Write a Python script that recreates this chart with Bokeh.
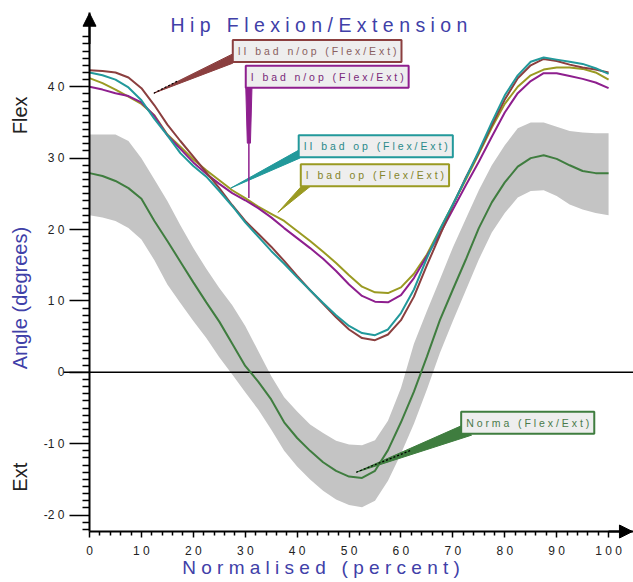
from bokeh.plotting import figure
from bokeh.models import Range1d, FixedTicker, Label, Arrow, NormalHead, ColumnDataSource
from bokeh.embed import file_html
from bokeh.resources import INLINE

# ---------------- data ----------------
pct = [0, 2.5, 5, 7.5, 10, 12.5, 15, 17.5, 20, 22.5, 25, 27.5, 30, 32.5, 35, 37.5, 40,
       42.5, 45, 47.5, 50, 52.5, 55, 57.5, 60, 62.5, 65, 67.5, 70, 72.5, 75, 77.5, 80,
       82.5, 85, 87.5, 90, 92.5, 95, 97.5, 100]

normal_mean = [27.9, 27.5, 26.8, 25.8, 24.3, 21.2, 18.4, 15.5, 12.6, 9.8, 7.1, 4.0, 0.9, -1.3,
               -3.8, -7.0, -9.2, -11.0, -12.6, -13.8, -14.6, -14.8, -13.8, -10.9, -7.0, -2.7,
               2.2, 7.3, 11.6, 15.8, 20.2, 23.8, 26.6, 28.8, 30.0, 30.4, 29.9, 29.0, 28.2, 27.9, 27.9]
normal_upper = [33.3, 33.3, 33.3, 32.4, 30.0, 27.0, 24.0, 20.6, 17.4, 14.5, 11.8, 9.4, 6.5, 3.0,
                -0.5, -3.5, -5.5, -7.3, -8.5, -9.6, -10.1, -10.2, -9.5, -6.8, -2.2, 4.0, 8.6,
                13.0, 17.5, 21.5, 25.5, 29.0, 31.8, 34.2, 35.0, 35.0, 34.4, 33.8, 33.6, 33.5, 33.5]
normal_lower = [22.0, 21.7, 21.2, 20.2, 18.6, 15.7, 12.3, 9.7, 7.2, 4.8, 2.1, -0.3, -2.8, -5.2,
                -8.0, -11.0, -13.2, -15.0, -16.6, -17.8, -18.6, -18.9, -18.0, -15.2, -11.4, -7.2,
                -2.4, 2.7, 7.2, 11.5, 15.8, 19.6, 22.3, 24.5, 25.4, 25.5, 24.7, 23.5, 22.8, 22.3, 22.0]

ii_bad_nop = [42.3, 42.2, 42.0, 41.3, 39.8, 37.4, 34.7, 32.4, 30.2, 28.0, 25.8, 23.4, 21.2, 19.4,
              17.6, 15.6, 13.5, 11.5, 9.6, 7.7, 6.0, 4.8, 4.5, 5.3, 7.3, 10.6, 15.0, 19.2, 23.4,
              27.3, 30.8, 34.6, 38.2, 41.2, 43.0, 43.9, 43.6, 43.1, 42.7, 42.4, 42.0]
i_bad_nop = [40.0, 39.6, 39.1, 38.7, 37.8, 35.9, 33.2, 31.3, 29.4, 27.8, 26.4, 25.1, 24.1, 23.0,
             21.7, 20.2, 18.8, 17.4, 15.9, 14.2, 12.3, 10.7, 9.9, 9.8, 10.8, 13.2, 16.3, 19.4,
             22.8, 26.2, 29.5, 33.0, 36.4, 39.1, 40.8, 41.9, 41.9, 41.5, 41.1, 40.6, 39.8]
ii_bad_op = [42.0, 41.6, 41.0, 39.9, 38.1, 35.5, 33.2, 30.7, 28.9, 27.4, 25.4, 23.3, 21.0, 19.0,
             17.0, 15.2, 13.3, 11.5, 9.7, 8.0, 6.5, 5.5, 5.2, 6.0, 8.3, 11.6, 16.0, 20.0, 23.5,
             27.2, 31.0, 35.0, 38.8, 41.6, 43.5, 44.1, 43.8, 43.5, 43.2, 42.6, 41.8]
i_bad_op = [41.2, 40.5, 39.6, 38.6, 37.6, 36.0, 33.3, 31.6, 29.8, 28.3, 26.9, 25.5, 24.4, 23.2,
            22.2, 21.2, 19.8, 18.4, 16.9, 15.3, 13.6, 12.0, 11.2, 11.1, 11.9, 13.8, 16.5, 20.0,
            23.5, 27.0, 30.6, 34.3, 37.6, 40.0, 41.6, 42.4, 42.7, 42.7, 42.5, 42.0, 41.0]

y_major = [-20, -10, 0, 10, 20, 30, 40]
x_major = [0, 10, 20, 30, 40, 50, 60, 70, 80, 90, 100]

title_text = "Hip Flexion/Extension"
x_label_text = "Normalised (percent)"
y_label_text = "Angle (degrees)"
series_names = ["II bad n/op (Flex/Ext)", "I bad n/op (Flex/Ext)",
                "II bad op (Flex/Ext)", "I bad op (Flex/Ext)", "Norma (Flex/Ext)"]

# ---------------- style ----------------
FONT = "Liberation Sans"
BLUE = "#4040a8"
C_BROWN = "#8b3f3f"
C_PURPLE = "#8e1f8e"
C_TEAL = "#22999b"
C_OLIVE = "#9a9a22"
C_GREEN = "#3f7d3f"
BAND = "#c4c4c4"
X_AXIS_Y = -22.3


def spaced(s):
    # letter-spaced look of the original; word gaps kept with non-breaking spaces
    return " ".join("\u00a0" if ch == " " else ch for ch in s)


p = figure(width=633, height=582, x_range=Range1d(-17.15, 104.8), y_range=Range1d(-29.44, 52.08),
           output_backend="svg", toolbar_location=None, title=None,
           min_border=0, min_border_left=0, min_border_right=0, min_border_top=0,
           min_border_bottom=0)
p.outline_line_color = None
p.xgrid.visible = False
p.ygrid.visible = False
p.background_fill_color = "white"
p.border_fill_color = "white"

# axes drawn at fixed places inside the frame
p.yaxis.fixed_location = 0
p.xaxis.fixed_location = X_AXIS_Y
p.yaxis.bounds = (X_AXIS_Y, 50.4)
p.xaxis.bounds = (0, 104.8)
p.yaxis.ticker = FixedTicker(ticks=y_major,
                             minor_ticks=[v for v in range(-22, 48) if v % 10 != 0])
p.xaxis.ticker = FixedTicker(ticks=x_major,
                             minor_ticks=[v for v in range(2, 100, 2) if v % 10 != 0])
p.yaxis.major_label_overrides = {v: ("-" if v < 0 else "") + spaced(str(abs(v))) for v in y_major}
p.xaxis.major_label_overrides = {v: spaced(str(v)) for v in x_major}
for ax in (p.xaxis, p.yaxis):
    ax.axis_line_width = 2
    ax.axis_line_color = "black"
    ax.major_tick_line_width = 1.5
    ax.minor_tick_line_width = 1.5
    ax.major_tick_in = 0
    ax.minor_tick_in = 0
    ax.major_label_text_font = FONT
    ax.major_label_text_font_size = "12px"
    ax.major_label_text_color = "#222222"
p.yaxis.major_tick_out = 20
p.yaxis.minor_tick_out = 7
p.yaxis.major_label_standoff = 5
p.xaxis.major_tick_out = 6
p.xaxis.minor_tick_out = 4
p.xaxis.major_label_standoff = 6

# band + curves
src = ColumnDataSource(dict(x=pct, mean=normal_mean, up=normal_upper, lo=normal_lower,
                            a=ii_bad_nop, b=i_bad_nop, c=ii_bad_op, d=i_bad_op))
p.varea(x="x", y1="lo", y2="up", source=src, fill_color=BAND)
p.segment(x0=[-5], y0=[0], x1=[104.8], y1=[0], line_color="black", line_width=1.5)
p.line("x", "mean", source=src, line_color=C_GREEN, line_width=2)
p.line("x", "d", source=src, line_color=C_OLIVE, line_width=2)
p.line("x", "b", source=src, line_color=C_PURPLE, line_width=2)
p.line("x", "a", source=src, line_color=C_BROWN, line_width=2)
p.line("x", "c", source=src, line_color=C_TEAL, line_width=2)

# axis arrow heads
p.add_layout(Arrow(end=NormalHead(size=13, fill_color="black", line_color="black"),
                   x_start=0, y_start=46, x_end=0, y_end=50.3,
                   line_color="black", line_width=2))
p.add_layout(Arrow(end=NormalHead(size=13, fill_color="black", line_color="black"),
                   x_start=100, y_start=X_AXIS_Y, x_end=104.6, y_end=X_AXIS_Y,
                   line_color="black", line_width=2))

# callout pointers (annotation geometry)
callouts = [
    (C_BROWN, [12.4, 27.6, 27.6], [39.1, 44.6, 43.3]),
    (C_TEAL, [27.2, 40.5, 40.5], [25.8, 31.2, 30.0]),
    (C_OLIVE, [36.3, 41.0, 42.8], [22.4, 26.2, 26.2]),
    (C_GREEN, [51.4, 71.6, 73.6], [-14.0, -7.5, -8.8]),
    (C_PURPLE, [30.1, 31.3, 31.0, 30.4], [40.0, 40.0, 32.1, 32.1]),
]
for col, xs, ys in callouts:
    p.patch(xs, ys, fill_color=col, line_color=col, line_width=1)
p.segment(x0=[30.7], y0=[32.1], x1=[30.7], y1=[24.4], line_color=C_PURPLE, line_width=1.5)
p.segment(x0=[12.4, 51.4], y0=[39.1, -14.0], x1=[17.0, 62.0], y1=[40.8, -10.9],
          line_color="black", line_width=1.2, line_dash="2 2")

# callout boxes
boxes = [
    (series_names[0], 27.6, 45.0, C_BROWN, "#8a6060"),
    (series_names[1], 30.1, 41.4, C_PURPLE, "#7a2a7a"),
    (series_names[2], 40.3, 31.65, C_TEAL, "#2a8a8a"),
    (series_names[3], 40.7, 27.6, C_OLIVE, "#85852a"),
    (series_names[4], 71.6, -7.07, C_GREEN, "#4a7a4a"),
]
for txt, bx, by, bc, tc in boxes:
    p.add_layout(Label(x=bx, y=by, text=spaced(txt), text_font=FONT, text_font_size="10.5px",
                       text_color=tc, text_align="left", text_baseline="middle",
                       background_fill_color="#eeeeee", border_line_color=bc,
                       border_line_width=2, padding=5))

# titles and axis texts
p.add_layout(Label(x=44.2, y=48.7, text=spaced(title_text), text_font=FONT,
                   text_font_size="19.5px", text_color=BLUE, text_align="center",
                   text_baseline="middle"))
p.add_layout(Label(x=44.6, y=-27.3, text=spaced(x_label_text), text_font=FONT,
                   text_font_size="19px", text_color=BLUE, text_align="center",
                   text_baseline="middle"))
p.add_layout(Label(x=-13.3, y=10.4, text=y_label_text, text_font=FONT, angle=1.5708,
                   text_font_size="20px", text_color=BLUE, text_align="center",
                   text_baseline="middle"))
p.add_layout(Label(x=-13.3, y=36.0, text="Flex", text_font=FONT, angle=1.5708,
                   text_font_size="20px", text_color="#222222", text_align="center",
                   text_baseline="middle"))
p.add_layout(Label(x=-13.3, y=-14.7, text="Ext", text_font=FONT, angle=1.5708,
                   text_font_size="20px", text_color="#222222", text_align="center",
                   text_baseline="middle"))

open("out.html", "w").write(file_html(p, INLINE))
